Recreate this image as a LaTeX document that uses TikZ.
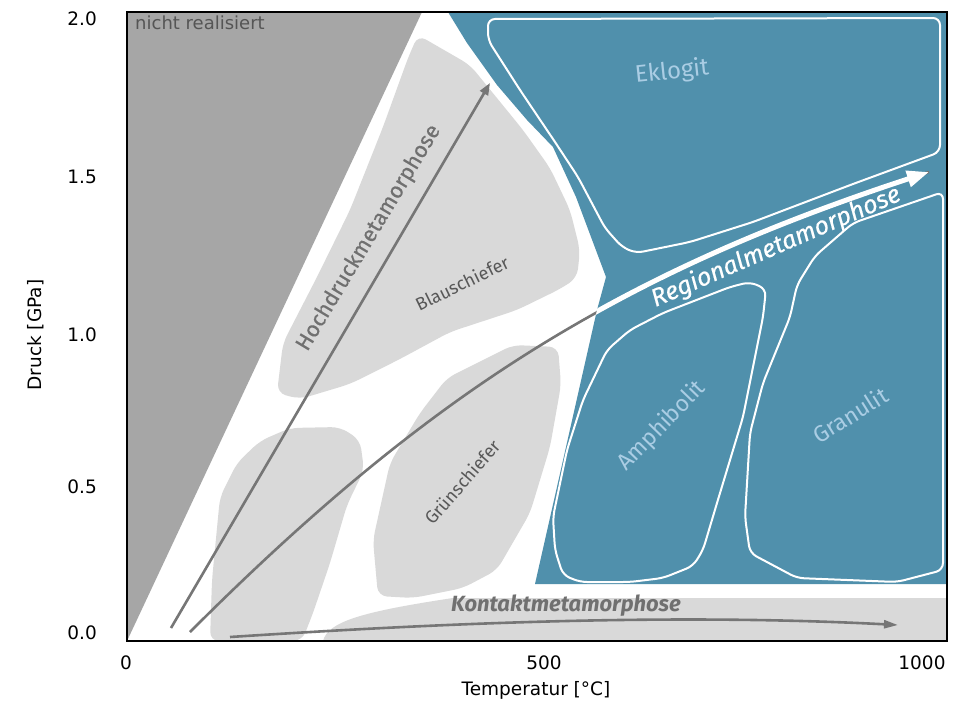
\documentclass[tikz,border=0pt]{standalone}
\usepackage{fontspec}
\setmainfont{DejaVu Sans}
\newfontfamily\lblfont{Fira Sans}
\newfontfamily\lblmed{Fira Sans}[FakeBold=0.45]
\usetikzlibrary{arrows.meta}

\definecolor{rockblue}{RGB}{80,144,172}
\definecolor{paleblue}{RGB}{170,205,228}
\definecolor{lightrock}{RGB}{217,217,217}
\definecolor{darkrock}{RGB}{166,166,166}
\definecolor{pathgray}{RGB}{118,118,118}
\definecolor{labelgray}{RGB}{88,88,88}
\definecolor{proclabel}{RGB}{112,112,112}

\tikzset{
  faciesfill/.style={fill=lightrock, draw=none, rounded corners=9pt},
  faciesline/.style={draw=white, line width=2pt, rounded corners=7pt},
  procpath/.style={draw=pathgray, line width=2.6pt},
  ticklabel/.style={inner sep=0pt, font=\fontsize{18.5}{20}\selectfont},
  axislabel/.style={inner sep=0pt, font=\fontsize{18.5}{20}\selectfont},
  grayfacies/.style={inner sep=0pt, text=labelgray, font=\lblfont\fontsize{18}{20}\selectfont},
  bluefacies/.style={inner sep=0pt, text=paleblue, font=\lblfont\fontsize{23}{25}\selectfont},
  proctext/.style={inner sep=0pt, font=\lblmed\fontsize{22}{24}\selectfont},
}

\begin{document}
\begin{tikzpicture}[x=1pt, y=-1pt]
\useasboundingbox (0,0) rectangle (970,704);
\fill[white] (0,0) rectangle (970,704);

% region where no metamorphism is realised
\fill[darkrock] (127,12) -- (422,12) -- (127,641) -- cycle;

% blueschist field
\fill[faciesfill] (418,35) -- (470,65) -- (523,130) -- (550,168) -- (570,210)
  -- (580,250) -- (577,278) -- (560,289) -- (517,310) -- (450,332) -- (400,359)
  -- (350,384) -- (300,399) -- (277,393) -- (283,343) -- (317,277)
  -- (350,210) -- (383,127) -- (408,58) -- cycle;

% low-grade field at low pressure
\fill[faciesfill] (210,641) -- (212,580) -- (220,497) -- (237,463) -- (260,441)
  -- (290,428) -- (340,427) -- (360,440) -- (364,470) -- (347,505)
  -- (330,563) -- (313,613) -- (302,641) -- cycle;

% greenschist field
\fill[faciesfill] (513,345) -- (558,347) -- (561,385) -- (550,447) -- (530,513)
  -- (497,570) -- (463,588) -- (413,598) -- (378,596) -- (373,540)
  -- (390,463) -- (420,413) -- (447,378) -- cycle;

% contact metamorphism band
\fill[lightrock] (323,641) .. controls (328,622) and (360,612) .. (453,598)
  -- (947,598) -- (947,641) -- cycle;

% high-grade field
\fill[rockblue] (448,12) -- (467,43) -- (497,85) -- (527,120) -- (553,147)
  -- (576,197) -- (606,277) -- (597,310) -- (535,584) -- (947,584)
  -- (947,12) -- cycle;

% eclogite facies outline
\draw[faciesline] (488,19) -- (940,18) -- (940,152) -- (853,184) -- (753,222)
  -- (690,242) -- (636,253) -- (622,247) -- (605,228) -- (578,177)
  -- (555,142) -- (520,90) -- (488,40) -- cycle;

% amphibolite facies outline
\draw[faciesline] (750,282) -- (766,289) -- (763,317) -- (743,417) -- (717,503)
  -- (703,550) -- (693,566) -- (663,578) -- (630,582) -- (580,582) -- (563,575)
  -- (555,550) -- (553,517) -- (567,450) -- (583,400) -- (607,350) -- (630,330)
  -- (663,313) -- (730,287) -- cycle;

% granulite facies outline
\draw[faciesline] (943,192) -- (853,223) -- (815,256) -- (797,285) -- (790,317)
  -- (763,383) -- (750,433) -- (745,517) -- (750,553) -- (797,578) -- (897,582)
  -- (943,570) -- cycle;

% metamorphic paths
\coordinate (hd-start) at (171,628);
\coordinate (hd-end) at (490,83);
\coordinate (rm-start) at (190,632);
\coordinate (rm-end) at (929,172);
\coordinate (km-start) at (230,637);
\coordinate (km-end) at (898,625);

\draw[procpath, -{Triangle[length=12pt,width=9pt]}] (hd-start) -- (hd-end);
\draw[procpath, -{Triangle[length=14pt,width=8pt]}] (km-start)
  .. controls (400,626) and (650,612) .. (km-end);
\draw[procpath] (rm-start) .. controls (440,382) and (628,271) .. (rm-end);

\begin{scope}
  \clip (448,12) -- (467,43) -- (497,85) -- (527,120) -- (553,147)
    -- (576,197) -- (606,277) -- (597,310) -- (535,584) -- (947,584)
    -- (947,12) -- cycle;
  \draw[draw=white, line width=5pt, -{Triangle[length=22pt,width=16pt]}]
    (rm-start) .. controls (440,382) and (628,271) .. (rm-end);
\end{scope}

% labels inside the diagram
\node[inner sep=0pt, anchor=west, text={rgb,255:red,85;green,85;blue,85},
  font=\fontsize{18}{20}\selectfont] (unreal) at (135,23) {nicht realisiert};
\node[grayfacies, rotate=26] (blueschist) at (462,283) {Blauschiefer};
\node[grayfacies, rotate=49] (greenschist) at (462,482) {Grünschiefer};
\node[bluefacies, font=\lblfont\fontsize{24}{26}\selectfont, rotate=6] (eclogite) at (672,72) {Eklogit};
\node[bluefacies, rotate=46] (amphibolite) at (662,426) {Amphibolit};
\node[bluefacies, rotate=32] (granulite) at (850,415) {Granulit};
\node[proctext, text=proclabel, rotate=59] (hdlabel) at (369,238) {Hochdruckmetamorphose};
\node[proctext, text=white, font=\lblmed\fontsize{25}{27}\selectfont, rotate=23.5] (rmlabel) at (776,247) {\itshape Regionalmetamorphose};
\node[proctext, text=proclabel, font=\lblfont\fontsize{22}{24}\selectfont] (kmlabel) at (566,606) {\bfseries\itshape Kontaktmetamorphose};

% frame
\draw[black, line width=2.6pt] (127,12) rectangle (947,641);

% axes annotation
\node[ticklabel, anchor=east] (y20) at (97,19) {2.0};
\node[ticklabel, anchor=east] (y15) at (97,177) {1.5};
\node[ticklabel, anchor=east] (y10) at (97,335) {1.0};
\node[ticklabel, anchor=east] (y05) at (97,487) {0.5};
\node[ticklabel, anchor=east] (y00) at (97,633) {0.0};
\node[ticklabel] (x0) at (126,663) {0};
\node[ticklabel] (x500) at (544,663) {500};
\node[ticklabel] (x1000) at (922,663) {1000};
\node[axislabel] (xlabel) at (536,690) {Temperatur [°C]};
\node[axislabel, rotate=90] (ylabel) at (36,335) {Druck [GPa]};
\end{tikzpicture}
\end{document}
